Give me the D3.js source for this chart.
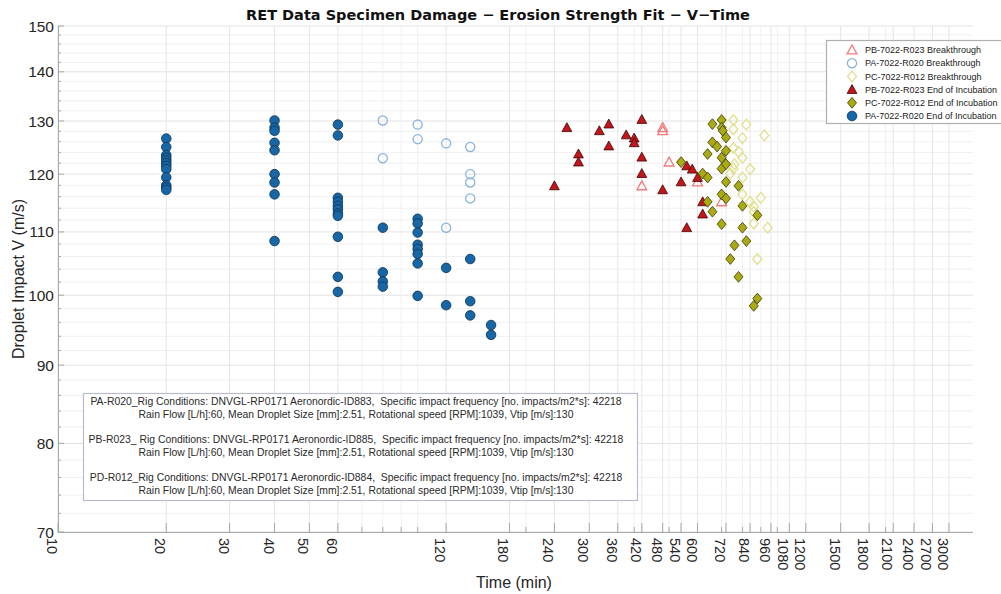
<!DOCTYPE html>
<html>
<head>
<meta charset="utf-8">
<script src="https://cdn.jsdelivr.net/npm/d3@7/dist/d3.min.js"></script>
<style>
  html, body { margin: 0; padding: 0; background: #fff; }
  svg { display: block; font-family: "Liberation Sans", Arial, Helvetica, sans-serif; }
  .note-line { white-space: pre; }
</style>
</head>
<body>
<svg id="chart" width="1001" height="594"></svg>
<script>
// ---- Axis tick labels ----
const xTickLabels = [10, 20, 30, 40, 50, 60, 120, 180, 240, 300, 360, 420, 480, 540, 600, 720, 840, 960, 1080, 1200, 1500, 1800, 2100, 2400, 2700, 3000];
const xMinorTicks = [10, 20, 30, 40, 50, 60, 70, 80, 90, 100, 200, 300, 400, 500, 600, 700, 800, 900, 1000, 2000, 3000];
const yTickLabels = [70, 80, 90, 100, 110, 120, 130, 140, 150];
const yMinorTicks = d3.range(70, 151, 2);

// ---- PA-7022-R020 End of Incubation (time in min, velocity in m/s) ----
const paEndTime = [20,20,20,20,20,20,20,20,20,20,20,20,
                   40,40,40,40,40,40,40,40,40,
                   60,60,60,60,60,60,60,60,60,60,60,
                   80,80,80,80,
                   100,100,100,100,100,100,100,100,
                   120,120,
                   140,140,140,
                   160,160];
const paEndV = [126.6,125.0,123.5,123.0,122.5,122.0,121.5,120.9,119.4,118.0,117.6,117.2,
                130.1,128.7,128.1,125.8,124.4,120.0,118.5,116.4,108.5,
                129.3,127.2,115.8,115.1,114.4,113.8,113.1,112.7,109.2,102.8,100.5,
                110.7,103.5,102.1,101.3,
                112.2,111.4,109.9,107.9,107.2,106.4,104.9,99.9,
                104.2,98.5,
                105.6,99.1,97.0,
                95.6,94.2];

// ---- PA-7022-R020 Breakthrough ----
const paBreakTime = [80, 80, 100, 100, 120, 120, 140, 140, 140, 140];
const paBreakV = [130.1, 122.9, 129.3, 126.5, 125.7, 110.7, 125.0, 120.0, 118.5, 115.7];

// ---- PB-7022-R023 End of Incubation ----
const pbEndTime = [240, 260, 280, 280, 320, 340, 340, 380, 400, 400, 420, 420, 420, 480, 540, 560, 580, 600, 620, 620, 560];
const pbEndV = [117.9, 128.7, 123.7, 122.2, 128.1, 129.4, 125.2, 127.3, 126.7, 125.8, 130.3, 123.1, 120.1, 117.2, 118.6, 121.5, 120.9, 119.4, 115.1, 113.0, 110.7];

// ---- PB-7022-R023 Breakthrough ----
const pbBreakTime = [480, 480, 500, 420, 600, 700];
const pbBreakV = [128.7, 128.1, 122.2, 117.9, 118.6, 115.1];

// ---- PC-7022-R012 End of Incubation ----
const pcEndTime = [540, 620, 640, 640, 640, 660, 660, 660, 680, 700, 700, 700, 700, 700, 700, 705,
                   720, 720, 720, 720, 720, 740, 760, 780, 780, 800, 800, 820, 880, 880, 860];
const pcEndV = [122.2, 120.1, 119.4, 123.7, 115.1, 129.4, 125.9, 113.4, 125.1, 130.2, 128.7, 123.0, 121.0, 116.4, 111.3, 128.1,
                126.8, 124.3, 121.8, 118.6, 115.7, 105.6, 107.8, 117.9, 102.8, 114.4, 110.7, 108.5, 112.8, 99.5, 98.4];

// ---- PC-7022-R012 Breakthrough ----
const pcBreakTime = [755, 820, 755, 800, 920, 755, 780, 800, 760, 755, 740, 840, 800, 800, 840, 900, 860, 860, 860, 940, 880];
const pcBreakV = [130.2, 129.3, 128.4, 126.7, 127.2, 124.8, 124.1, 123.0, 121.8, 121.0, 120.1, 120.9, 119.4, 116.4, 115.1, 115.8, 114.3, 113.4, 111.4, 110.7, 105.6];

// ---- Legend entries and rig-condition notes ----
const legendLabels = [
  "PB-7022-R023 Breakthrough",
  "PA-7022-R020 Breakthrough",
  "PC-7022-R012 Breakthrough",
  "PB-7022-R023 End of Incubation",
  "PC-7022-R012 End of Incubation",
  "PA-7022-R020 End of Incubation"
];
const noteLines = [
  "PA-R020_Rig Conditions: DNVGL-RP0171 Aeronordic-ID883,  Specific impact frequency [no. impacts/m2*s]: 42218",
  "Rain Flow [L/h]:60, Mean Droplet Size [mm]:2.51, Rotational speed [RPM]:1039, Vtip [m/s]:130",
  "PB-R023_ Rig Conditions: DNVGL-RP0171 Aeronordic-ID885,  Specific impact frequency [no. impacts/m2*s]: 42218",
  "Rain Flow [L/h]:60, Mean Droplet Size [mm]:2.51, Rotational speed [RPM]:1039, Vtip [m/s]:130",
  "PD-R012_Rig Conditions: DNVGL-RP0171 Aeronordic-ID884,  Specific impact frequency [no. impacts/m2*s]: 42218",
  "Rain Flow [L/h]:60, Mean Droplet Size [mm]:2.51, Rotational speed [RPM]:1039, Vtip [m/s]:130"
];

// ---- Layout ----
const svg = d3.select("#chart");
const plot = { left: 58, right: 973, top: 26, bottom: 532 };

const x = d3.scaleLog().domain([10, 3500]).range([plot.left, plot.right]);
const y = d3.scaleLog().domain([70, 150]).range([plot.bottom, plot.top]);

// Marker shapes
const circlePath = r => `M${r},0A${r},${r} 0 1,1 ${-r},0A${r},${r} 0 1,1 ${r},0Z`;
const trianglePath = "M0,-5L4.9,3.9L-4.9,3.9Z";
const diamondPath = "M0,-5.4L4.5,0L0,5.4L-4.5,0Z";

const styles = {
  paBreak: { d: circlePath(4.6), fill: "none", stroke: "#8db5dc", sw: 1.3 },
  paEnd:   { d: circlePath(4.8), fill: "#1767a7", stroke: "#0c3152", sw: 0.8 },
  pbBreak: { d: trianglePath, fill: "none", stroke: "#f07c7c", sw: 1.3 },
  pbEnd:   { d: trianglePath, fill: "#c4141c", stroke: "#3c0707", sw: 0.8 },
  pcBreak: { d: diamondPath, fill: "none", stroke: "#e0e08e", sw: 1.3 },
  pcEnd:   { d: diamondPath, fill: "#aaaa12", stroke: "#3a3a05", sw: 0.8 }
};

// ---- Grid ----
const grid = svg.append("g");
grid.selectAll("line.hg").data(yMinorTicks).join("line")
  .attr("x1", plot.left).attr("x2", plot.right)
  .attr("y1", d => y(d)).attr("y2", d => y(d))
  .attr("stroke", d => d % 10 === 0 ? "#e2e2e2" : "#f0f0f0").attr("stroke-width", 1);
const xGridVals = Array.from(new Set(xMinorTicks.concat(xTickLabels)));
grid.selectAll("line.vg").data(xGridVals).join("line")
  .attr("y1", plot.top).attr("y2", plot.bottom)
  .attr("x1", d => x(d)).attr("x2", d => x(d))
  .attr("stroke", d => xTickLabels.includes(d) ? "#e6e6e6" : "#f0f0f0").attr("stroke-width", 1);

// ---- Axes ----
const axisColor = "#a8a8a8";
const axes = svg.append("g");
axes.append("line").attr("x1", plot.left).attr("x2", plot.right)
  .attr("y1", plot.bottom + 0.5).attr("y2", plot.bottom + 0.5).attr("stroke", axisColor);
axes.append("line").attr("x1", plot.left + 0.5).attr("x2", plot.left + 0.5)
  .attr("y1", plot.top).attr("y2", plot.bottom).attr("stroke", axisColor);

// x ticks (pointing inward)
axes.selectAll("line.xt").data(xGridVals).join("line")
  .attr("x1", d => x(d)).attr("x2", d => x(d))
  .attr("y1", plot.bottom)
  .attr("y2", d => plot.bottom - (xTickLabels.includes(d) ? 9 : 5))
  .attr("stroke", axisColor);
// y ticks
axes.selectAll("line.yt").data(yMinorTicks).join("line")
  .attr("y1", d => y(d)).attr("y2", d => y(d))
  .attr("x1", plot.left)
  .attr("x2", d => plot.left + (d % 10 === 0 ? 6 : 3))
  .attr("stroke", axisColor);

// x tick labels, rotated to read downward
axes.selectAll("text.xl").data(xTickLabels).join("text")
  .attr("transform", d => `translate(${x(d) - 11},${plot.bottom + 6}) rotate(90)`)
  .attr("font-size", 14.5).attr("fill", "#262626")
  .text(d => d);

// y tick labels
axes.selectAll("text.yl").data(yTickLabels).join("text")
  .attr("x", plot.left - 4).attr("y", d => y(d))
  .attr("dy", "0.36em").attr("text-anchor", "end")
  .attr("font-size", 15.5).attr("fill", "#262626")
  .text(d => d);

// Axis titles
svg.append("text").attr("x", 514).attr("y", 588).attr("text-anchor", "middle")
  .attr("font-size", 16).attr("fill", "#262626").text("Time (min)");
svg.append("text").attr("transform", "translate(24,279) rotate(-90)")
  .attr("text-anchor", "middle").attr("font-size", 16).attr("fill", "#262626")
  .text("Droplet Impact V (m/s)");

// Title
svg.append("text").attr("x", 498).attr("y", 20).attr("text-anchor", "middle")
  .attr("font-family", "'DejaVu Sans', sans-serif").attr("font-weight", "bold")
  .attr("font-size", 14.5).attr("fill", "#111")
  .text("RET Data Specimen Damage \u2212 Erosion Strength Fit \u2212 V\u2212Time");

// ---- Rig-condition note box ----
const note = svg.append("g");
note.append("rect").attr("x", 83.5).attr("y", 393.5).attr("width", 554).attr("height", 107)
  .attr("fill", "#fff").attr("stroke", "#b9bccb").attr("stroke-width", 1.2);
const noteY = [405, 418, 443, 456, 481, 494];
note.selectAll("text").data(noteLines).join("text")
  .attr("class", "note-line")
  .attr("x", 356).attr("y", (d, i) => noteY[i]).attr("text-anchor", "middle")
  .attr("font-size", 10.4).attr("fill", "#2a2a2a")
  .text(d => d);

// ---- Data points ----
function drawSeries(times, values, style) {
  const pts = times.map((t, i) => [t, values[i]]);
  svg.append("g").selectAll("path").data(pts).join("path")
    .attr("transform", d => `translate(${x(d[0])},${y(d[1])})`)
    .attr("d", style.d)
    .attr("fill", style.fill).attr("stroke", style.stroke).attr("stroke-width", style.sw);
}
drawSeries(paBreakTime, paBreakV, styles.paBreak);
drawSeries(pcBreakTime, pcBreakV, styles.pcBreak);
drawSeries(pbBreakTime, pbBreakV, styles.pbBreak);
drawSeries(pbEndTime, pbEndV, styles.pbEnd);
drawSeries(pcEndTime, pcEndV, styles.pcEnd);
drawSeries(paEndTime, paEndV, styles.paEnd);

// ---- Legend ----
const legendStyles = [styles.pbBreak, styles.paBreak, styles.pcBreak, styles.pbEnd, styles.pcEnd, styles.paEnd];
const legend = svg.append("g");
legend.append("rect").attr("x", 826.5).attr("y", 40.5).attr("width", 180).attr("height", 83)
  .attr("fill", "#fff").attr("stroke", "#b0b0b0").attr("stroke-width", 1.2);
const rows = legend.selectAll("g.row").data(legendLabels).join("g")
  .attr("transform", (d, i) => `translate(0,${50 + i * 13.2})`);
rows.append("path").attr("transform", "translate(852,0)")
  .attr("d", (d, i) => legendStyles[i].d)
  .attr("fill", (d, i) => legendStyles[i].fill)
  .attr("stroke", (d, i) => legendStyles[i].stroke)
  .attr("stroke-width", (d, i) => legendStyles[i].sw);
rows.append("text").attr("x", 865).attr("dy", "0.35em")
  .attr("font-size", 9).attr("fill", "#222").text(d => d);
</script>
</body>
</html>
